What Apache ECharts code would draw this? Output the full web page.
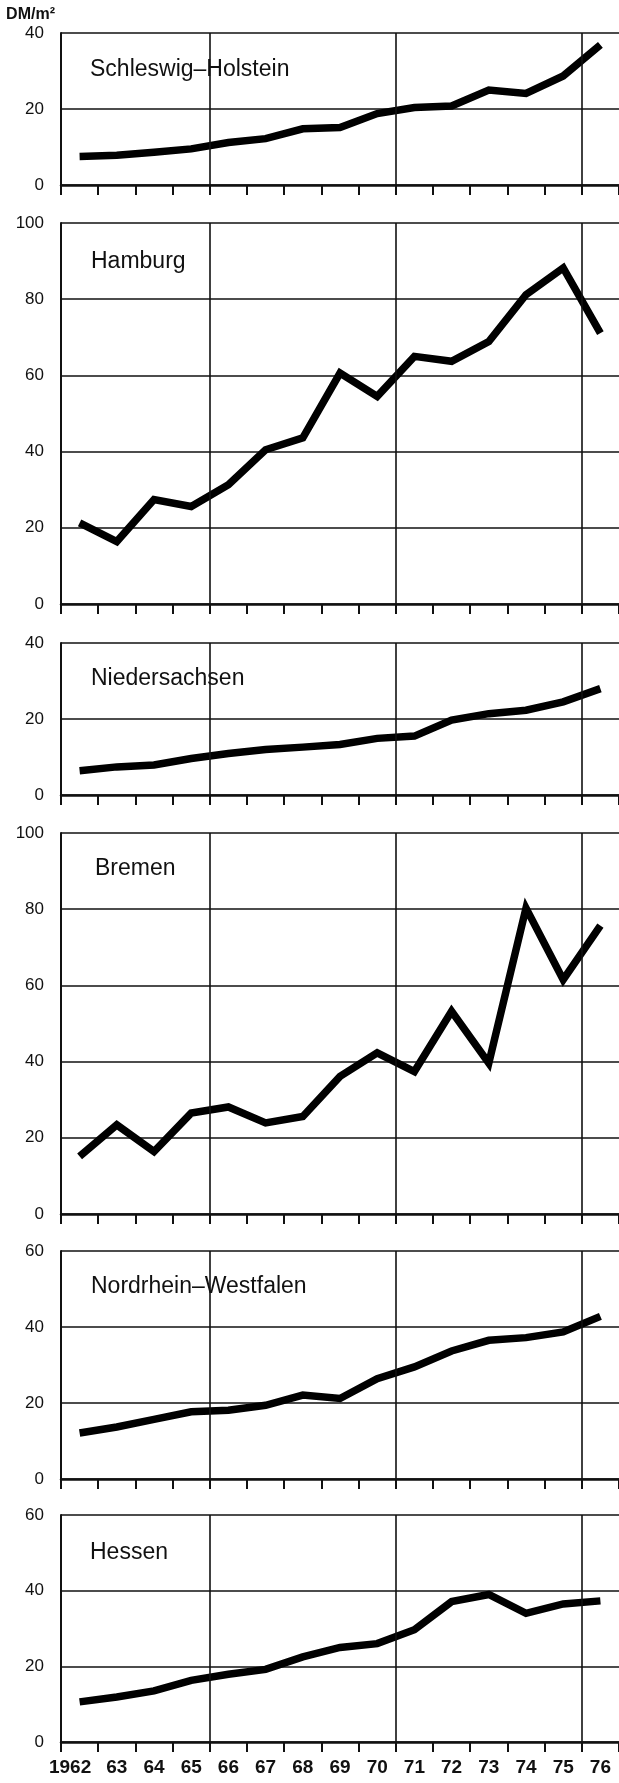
<!DOCTYPE html>
<html>
<head>
<meta charset="utf-8">
<script src="https://cdn.jsdelivr.net/npm/echarts@6/dist/echarts.min.js"></script>
<style>
html, body { margin: 0; padding: 0; background: #fff; }
#chart { width: 619px; height: 1783px; }
</style>
</head>
<body>
<div id="chart"></div>
<script>
// Jahre (Kategorien der x-Achse)
const years = ['1962', '63', '64', '65', '66', '67', '68', '69', '70', '71', '72', '73', '74', '75', '76']

// Preise in DM/m2 je Land
const schleswigHolstein = [7.5, 7.8, 8.6, 9.5, 11.2, 12.2, 14.8, 15.1, 18.8, 20.4, 20.8, 25.0, 24.1, 28.7, 36.9]
const hamburg = [21.3, 16.4, 27.4, 25.6, 31.3, 40.5, 43.6, 60.6, 54.5, 65.0, 63.7, 68.9, 81.2, 88.2, 71.1]
const niedersachsen = [6.4, 7.4, 7.9, 9.6, 10.9, 12.0, 12.6, 13.3, 14.9, 15.5, 19.7, 21.4, 22.3, 24.5, 28.0]
const bremen = [15.1, 23.4, 16.4, 26.5, 28.1, 23.9, 25.6, 36.1, 42.3, 37.4, 53.2, 39.6, 80.3, 61.5, 75.7]
const nordrheinWestfalen = [12.1, 13.7, 15.7, 17.7, 18.1, 19.4, 22.1, 21.2, 26.4, 29.5, 33.7, 36.5, 37.2, 38.7, 42.8]
const hessen = [10.6, 11.9, 13.5, 16.3, 17.9, 19.2, 22.5, 25.0, 26.0, 29.7, 37.1, 39.0, 34.0, 36.5, 37.3]

const panelNames = ['Schleswig–Holstein', 'Hamburg', 'Niedersachsen', 'Bremen', 'Nordrhein–Westfalen', 'Hessen']
const panelValues = [schleswigHolstein, hamburg, niedersachsen, bremen, nordrheinWestfalen, hessen]
const panelMax = [40, 100, 40, 100, 60, 60]
const yStep = 20
// senkrechte Gitterlinien (Grenze vor 1966, 1971, 1976, gezählt in Jahren ab linkem Rand)
const verticalGridAt = [4, 9, 14]

// Lage der einzelnen Felder
const layout = [
  { top: 33, height: 152, titleX: 90, titleY: 58 },
  { top: 223, height: 381, titleX: 91, titleY: 250 },
  { top: 643, height: 152, titleX: 91, titleY: 667 },
  { top: 833, height: 381, titleX: 95, titleY: 857 },
  { top: 1251, height: 228, titleX: 91, titleY: 1275 },
  { top: 1515, height: 227, titleX: 90, titleY: 1541 }
]

const font = "'Liberation Sans', Arial, sans-serif"
const ink = '#111'

let grid = []
let xAxis = []
let yAxis = []
let series = []
let title = []

layout.forEach((p, i) => {
  const last = i === layout.length - 1
  grid.push({ left: 61, width: 560, top: p.top, height: p.height, containLabel: false })
  // Jahresachse
  xAxis.push({
    type: 'category',
    gridIndex: i,
    data: years.map((y, k) => k === 0 ? { value: y, textStyle: { padding: [0, 19, 0, 0] } } : y),
    boundaryGap: true,
    axisLine: { show: true, lineStyle: { color: ink, width: 2.5 } },
    axisTick: { show: true, interval: 0, length: 10, lineStyle: { color: ink, width: 2 } },
    axisLabel: {
      show: last,
      interval: 0,
      margin: 16,
      fontFamily: font,
      fontWeight: 'bold',
      fontSize: 19,
      color: ink
    },
    splitLine: { show: false }
  })
  // unsichtbare Hilfsachse fuer die senkrechten Linien
  xAxis.push({
    type: 'value',
    gridIndex: i,
    min: 0,
    max: years.length,
    show: false
  })
  yAxis.push({
    type: 'value',
    gridIndex: i,
    min: 0,
    max: panelMax[i],
    interval: yStep,
    name: i === 0 ? 'DM/m²' : '',
    nameLocation: 'end',
    nameGap: 10,
    nameTextStyle: {
      align: 'right',
      verticalAlign: 'bottom',
      padding: [0, 6, 0, 0],
      fontFamily: font,
      fontWeight: 'bold',
      fontSize: 16,
      color: ink
    },
    axisLine: { show: true, lineStyle: { color: ink, width: 2 } },
    axisTick: { show: false },
    axisLabel: { margin: 17, fontFamily: font, fontSize: 17, color: ink },
    splitLine: { show: true, lineStyle: { color: ink, width: 1.5 } }
  })
  series.push({
    type: 'line',
    xAxisIndex: 2 * i,
    yAxisIndex: i,
    data: panelValues[i],
    symbol: 'none',
    silent: true,
    z: 3,
    lineStyle: { color: '#000', width: 7.5, join: 'miter', cap: 'butt' }
  })
  series.push({
    type: 'line',
    xAxisIndex: 2 * i + 1,
    yAxisIndex: i,
    data: [],
    silent: true,
    z: 1,
    markLine: {
      silent: true,
      symbol: 'none',
      label: { show: false },
      lineStyle: { color: ink, width: 1.6, type: 'solid' },
      data: verticalGridAt.map(v => ({ xAxis: v }))
    }
  })
  title.push({
    text: panelNames[i],
    left: p.titleX,
    top: p.titleY,
    padding: 0,
    textStyle: { fontFamily: font, fontWeight: 'normal', fontSize: 23, color: ink }
  })
})

let myChart = echarts.init(document.getElementById('chart'), null, { renderer: 'canvas' })
let option = {
  animation: false,
  backgroundColor: '#fff',
  title: title,
  grid: grid,
  xAxis: xAxis,
  yAxis: yAxis,
  series: series
}
myChart.setOption(option)
</script>
</body>
</html>
